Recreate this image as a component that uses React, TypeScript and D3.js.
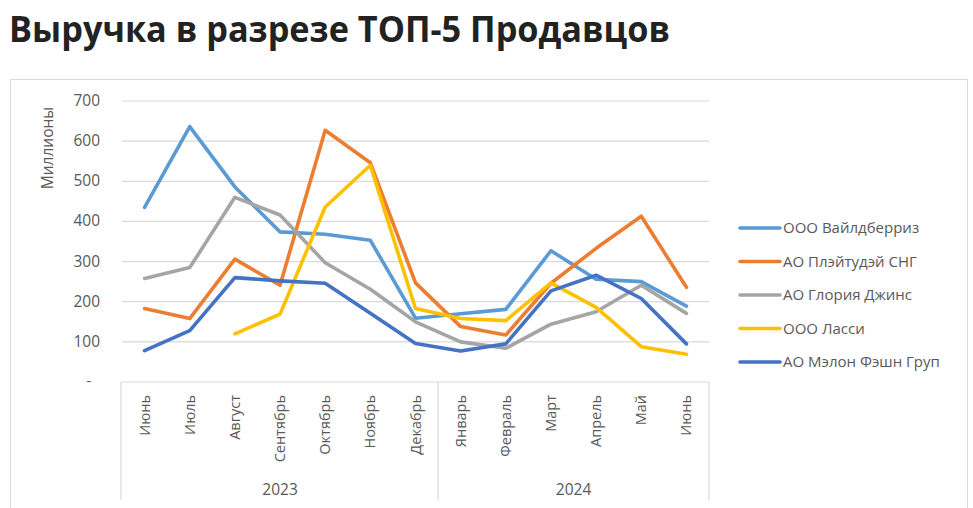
import React from "react";
import * as d3 from "d3";

const months = ["Июнь","Июль","Август","Сентябрь","Октябрь","Ноябрь","Декабрь","Январь","Февраль","Март","Апрель","Май","Июнь"];
const years = [
  { label: "2023", from: 0, to: 6 },
  { label: "2024", from: 7, to: 12 },
];
const yTicks = [100, 200, 300, 400, 500, 600, 700];

const wildberries = [435, 636, 486, 374, 368, 353, 159, 170, 181, 327, 256, 250, 189];
const playtoday = [183, 158, 306, 241, 627, 546, 247, 138, 117, 246, 333, 413, 236];
const gloria = [258, 285, 460, 416, 297, 231, 150, 100, 84, 144, 175, 241, 171];
const lassi = [null, null, 120, 169, 436, 540, 183, 158, 153, 247, 186, 88, 69];
const melon = [78, 128, 260, 252, 246, 171, 96, 77, 95, 227, 266, 208, 95];

const seriesNames = ["ООО Вайлдберриз", "АО Плэйтудэй СНГ", "АО Глория Джинс", "ООО Ласси", "АО Мэлон Фэшн Груп"];
const seriesColors = ["#5B9BD5", "#ED7D31", "#A5A5A5", "#FFC000", "#4472C4"];

export default function App() {
  const W = 973, H = 508;
  const plotLeft = 122, plotRight = 709, yTop = 101, yZero = 382;
  const x = d3.scalePoint<number>().domain(d3.range(months.length)).range([plotLeft, plotRight]).padding(0.5);
  const y = d3.scaleLinear().domain([0, 700]).range([yZero, yTop]);
  const data = [wildberries, playtoday, gloria, lassi, melon];
  const line = d3.line<number | null>()
    .defined((d) => d !== null)
    .x((_, i) => x(i) as number)
    .y((d) => y(d as number));
  const font = "'Open Sans', 'Noto Sans', sans-serif";
  const grey = "#595959";
  const gridCol = "#d9d9d9";
  const legendY = [228, 261.5, 295, 328.5, 362];

  return (
    <svg width={W} height={H} style={{ position: "absolute", left: 0, top: 0, background: "#fff" }}>
      <rect x={0} y={0} width={W} height={H} fill="#fff" />
      <text x={9} y={42} fontFamily={font} fontWeight={700} fontSize={35} fill="#222" textLength={661} lengthAdjust="spacingAndGlyphs">
        Выручка в разрезе ТОП-5 Продавцов
      </text>
      <rect x={10.5} y={79.5} width={957} height={460} fill="none" stroke={gridCol} strokeWidth={1} />
      {yTicks.map((t) => (
        <g key={t}>
          <line x1={plotLeft} x2={plotRight} y1={y(t)} y2={y(t)} stroke={gridCol} strokeWidth={1.2} />
          <text x={100} y={y(t) + 5} textAnchor="end" fontFamily={font} fontSize={15.5} fill={grey}>{t}</text>
        </g>
      ))}
      <text x={89} y={y(0) + 4} textAnchor="middle" fontFamily={font} fontSize={15} fill={grey}>-</text>
      <text transform={`translate(53,148) rotate(-90)`} textAnchor="middle" fontFamily={font} fontSize={15.5} fill={grey}>Миллионы</text>
      <line x1={plotLeft - 1} x2={plotRight} y1={yZero} y2={yZero} stroke={gridCol} strokeWidth={1.2} />
      {[plotLeft - 1, (x(6)! + x(7)!) / 2, plotRight].map((xx, i) => (
        <line key={i} x1={xx} x2={xx} y1={yZero} y2={500} stroke={gridCol} strokeWidth={1.2} />
      ))}
      {months.map((m, i) => (
        <text key={i} transform={`translate(${x(i)! + 5},${yZero + 13}) rotate(-90)`} textAnchor="end" fontFamily={font} fontSize={14.5} fill={grey}>{m}</text>
      ))}
      {years.map((yr) => (
        <text key={yr.label} x={(x(yr.from)! + x(yr.to)!) / 2} y={495} textAnchor="middle" fontFamily={font} fontSize={15.5} fill={grey}>{yr.label}</text>
      ))}
      {data.map((s, i) => (
        <path key={i} d={line(s) || ""} fill="none" stroke={seriesColors[i]} strokeWidth={3.6} strokeLinejoin="round" strokeLinecap="round" />
      ))}
      {seriesNames.map((n, i) => (
        <g key={n}>
          <line x1={740} x2={780} y1={legendY[i]} y2={legendY[i]} stroke={seriesColors[i]} strokeWidth={3.6} strokeLinecap="round" />
          <text x={783} y={legendY[i] + 5} fontFamily={font} fontSize={15} fill={grey}>{n}</text>
        </g>
      ))}
    </svg>
  );
}
